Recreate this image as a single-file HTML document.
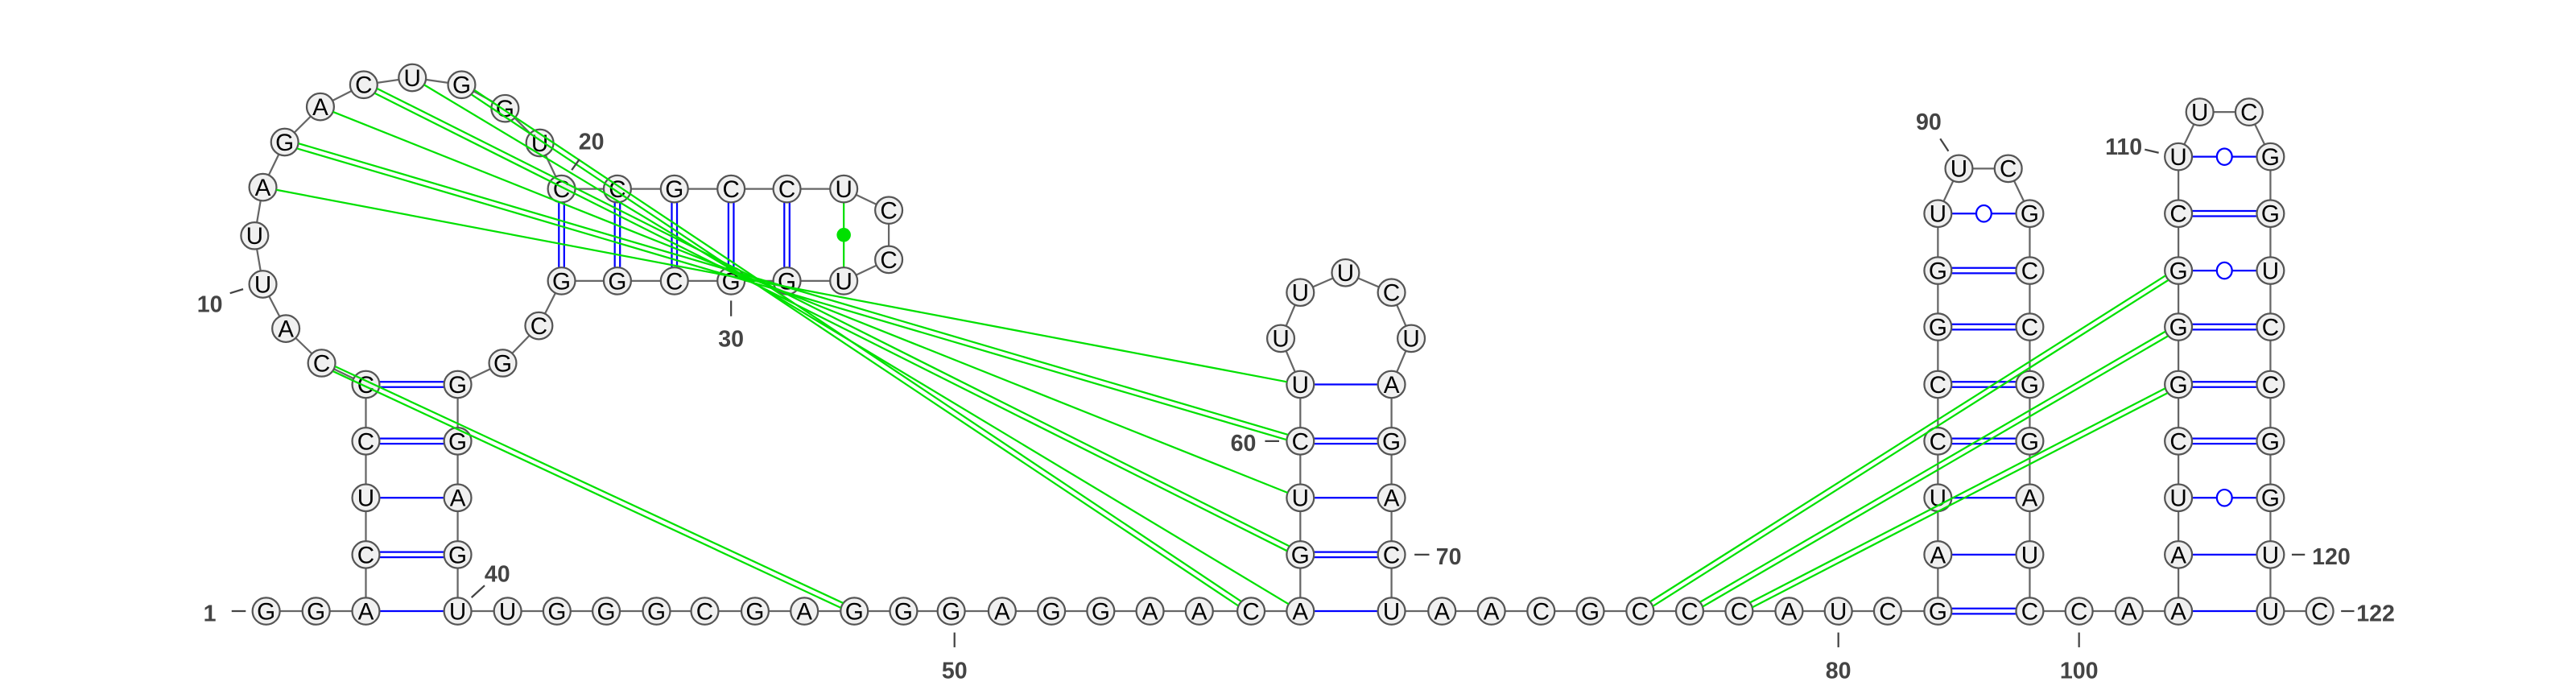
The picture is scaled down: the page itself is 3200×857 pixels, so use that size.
<!DOCTYPE html>
<html><head><meta charset="utf-8"><style>
html,body{margin:0;padding:0;background:#fff;}
svg{display:block;}
</style></head><body>
<svg id="chart" width="3200" height="857" viewBox="0 0 1568 420" preserveAspectRatio="none" xmlns="http://www.w3.org/2000/svg">
<g id="backbone"></g>
<g id="pairs"></g>
<g id="nodes"></g>
<g id="tert"></g>
<g id="labels"></g>
</svg>
<script>
const sequence = "GGACUCCCAUUAGACUGGUCCGCCUCCUGGCGGCGGGAGUUGGGCGAGGGAGGAACAGUCUUUUCUAGACUAACGCCCAUCGAUCCGGUUCGCCGGAUCCAAAUCGGGCUUCGGUCCGGUUC";
const nodeX = [162,192.4,222.7,222.7,222.7,222.7,222.7,195.8,174,160,155,160,173.3,195,221.4,251,281,307.4,328.6,341.8,375.8,410.5,445,479,513.6,541,541,513.6,479,445,410.5,375.8,341.8,328,306,278.6,278.6,278.6,278.6,278.6,
309,339,369,399.6,429,459.6,489.6,520,550,579,610,640,670,700,730,761.5,
791.5,791.5,791.5,791.5,791.5,779.6,791.5,819,847,859,847,847,847,847,847,
877.7,907.8,938,968,998.3,1028.5,1058.6,1089,1119,1149,
1179.6,1179.6,1179.6,1179.6,1179.6,1179.6,1179.6,1179.6,1192.4,1222.4,1235.5,1235.5,1235.5,1235.5,1235.5,1235.5,1235.5,1235.5,
1265.5,1296,1326,1326,1326,1326,1326,1326,1326,1326,1326,1339,1369,1382,1382,1382,1382,1382,1382,1382,1382,1382,1412];
const nodeY = [372,372,372,337.6,303,268.5,234,221,200,173,143.5,114,86.5,65,51.6,47.3,51.6,66,87,115,115,115,115,115,115,128,158,171,171,171,171,171,171,198.3,221,234,268.5,303,337.6,372,
372,372,372,372,372,372,372,372,372,372,372,372,372,372,372,372,
372,337.6,303,268.5,234,206,178,166,178,206,234,268.5,303,337.6,372,
372,372,372,372,372,372,372,372,372,372,
372,337.6,303,268.5,234,199,164.7,130,102.6,102.6,130,164.7,199,234,268.5,303,337.6,372,
372,372,372,337.6,303,268.5,234,199,164.7,130,95.4,68.2,68.2,95.4,130,164.7,199,234,268.5,303,337.6,372,372];
const pairI = [3,4,5,6,7,20,21,22,23,24,25,57,58,59,60,61,82,83,84,85,86,87,88,89,102,103,104,105,106,107,108,109,110];
const pairJ = [40,39,38,37,36,33,32,31,30,29,28,71,70,69,68,67,99,98,97,96,95,94,93,92,121,120,119,118,117,116,115,114,113];
const pairType = ["s","d","s","d","d","d","d","d","d","d","g","s","d","s","d","s","d","s","s","d","d","d","d","o","s","s","o","d","d","d","o","d","o"];
const tertI = [8,12,13,14,15,16,17,76,77,78];
const tertJ = [48,61,60,59,58,57,56,108,107,106];
const tertType = ["d","s","d","s","d","s","d","d","d","d"];
const labelText = ["1","10","20","30","40","50","60","70","80","90","100","110","120","122"];
const labelPos = [[127.7,373,141,372,149.6,372],[127.7,185,140,178.5,148,176],[360,86,352.7,97,348,103.5],[445,206,445,183,445,192.5],[302.7,349,295,356.4,287,363.7],[581,408,581,385,581,394],[756.8,269.5,770,268.5,778.6,268.5],[881.8,338.6,861,337.6,870,337.6],[1119,408,1119,385,1119,394],[1174,74,1181,84.4,1186,92],[1265.5,408,1265.5,385,1265.5,394],[1292.7,89,1305.5,91,1314,93],[1419,338.6,1395,337.6,1403,337.6],[1446,373,1425,372,1433,372]];

const NS="http://www.w3.org/2000/svg";
const R=8.3;
function mk(tag,attrs,parent){const e=document.createElementNS(NS,tag);for(const k in attrs)e.setAttribute(k,attrs[k]);parent.appendChild(e);return e;}
const bb=document.getElementById('backbone'),pg=document.getElementById('pairs'),ng=document.getElementById('nodes'),tg=document.getElementById('tert'),lg=document.getElementById('labels');
for(let i=0;i<sequence.length-1;i++){
  const l=mk('line',{x1:nodeX[i],y1:nodeY[i],x2:nodeX[i+1],y2:nodeY[i+1],stroke:'#666','stroke-width':1.1},bb);
  
  
}
function seg(a,b,off,color,parent,name){
  const x1=nodeX[a-1],y1=nodeY[a-1],x2=nodeX[b-1],y2=nodeY[b-1];
  const dx=x2-x1,dy=y2-y1,L=Math.hypot(dx,dy),ux=dx/L,uy=dy/L,px=-uy,py=ux;
  const offs=off?[-1.6,1.6]:[0];
  offs.forEach(o=>{
    const l=mk('line',{x1:x1+ux*R+px*o,y1:y1+uy*R+py*o,x2:x2-ux*R+px*o,y2:y2-uy*R+py*o,stroke:color,'stroke-width':1.1},parent);
    
    
  });
}
for(let k=0;k<pairI.length;k++){
  const t=pairType[k],a=pairI[k],b=pairJ[k];
  if(t==='g'){
    seg(a,b,false,'#00e000',pg,'noncanonical-pair');
    const c=mk('circle',{cx:(nodeX[a-1]+nodeX[b-1])/2,cy:(nodeY[a-1]+nodeY[b-1])/2,r:4.3,fill:'#00e000'},pg);
    
    
  } else {
    seg(a,b,t==='d','#0000ff',pg,'base-pair');
    if(t==='o'){
      const c=mk('ellipse',{cx:(nodeX[a-1]+nodeX[b-1])/2,cy:(nodeY[a-1]+nodeY[b-1])/2,rx:4.6,ry:5,fill:'#fff',stroke:'#0000ff','stroke-width':1.1},pg);
      
      
    }
  }
}
for(let i=0;i<sequence.length;i++){
  const g=mk('g',{},ng);
  
  
  mk('ellipse',{cx:nodeX[i],cy:nodeY[i],rx:R,ry:8.2,fill:'#f0f0f0',stroke:'#555','stroke-width':1.1},g);
  const t=mk('text',{x:nodeX[i],y:nodeY[i]+5.1,'text-anchor':'middle','font-family':'Liberation Sans, sans-serif','font-size':14.5,fill:'#000'},g);
  t.textContent=sequence[i];
}
for(let k=0;k<tertI.length;k++){
  seg(tertI[k],tertJ[k],tertType[k]==='d','#00e000',tg,'tertiary-interaction');
}
for(let k=0;k<labelText.length;k++){
  const p=labelPos[k];
  const l=mk('line',{x1:p[2],y1:p[3],x2:p[4],y2:p[5],stroke:'#444','stroke-width':1.1},lg);
  
  
  const t=mk('text',{x:p[0],y:p[1]+5,'text-anchor':'middle','font-family':'Liberation Sans, sans-serif','font-size':14,'font-weight':'bold',fill:'#444'},lg);
  
  
  t.textContent=labelText[k];
}
</script>
</body></html>
